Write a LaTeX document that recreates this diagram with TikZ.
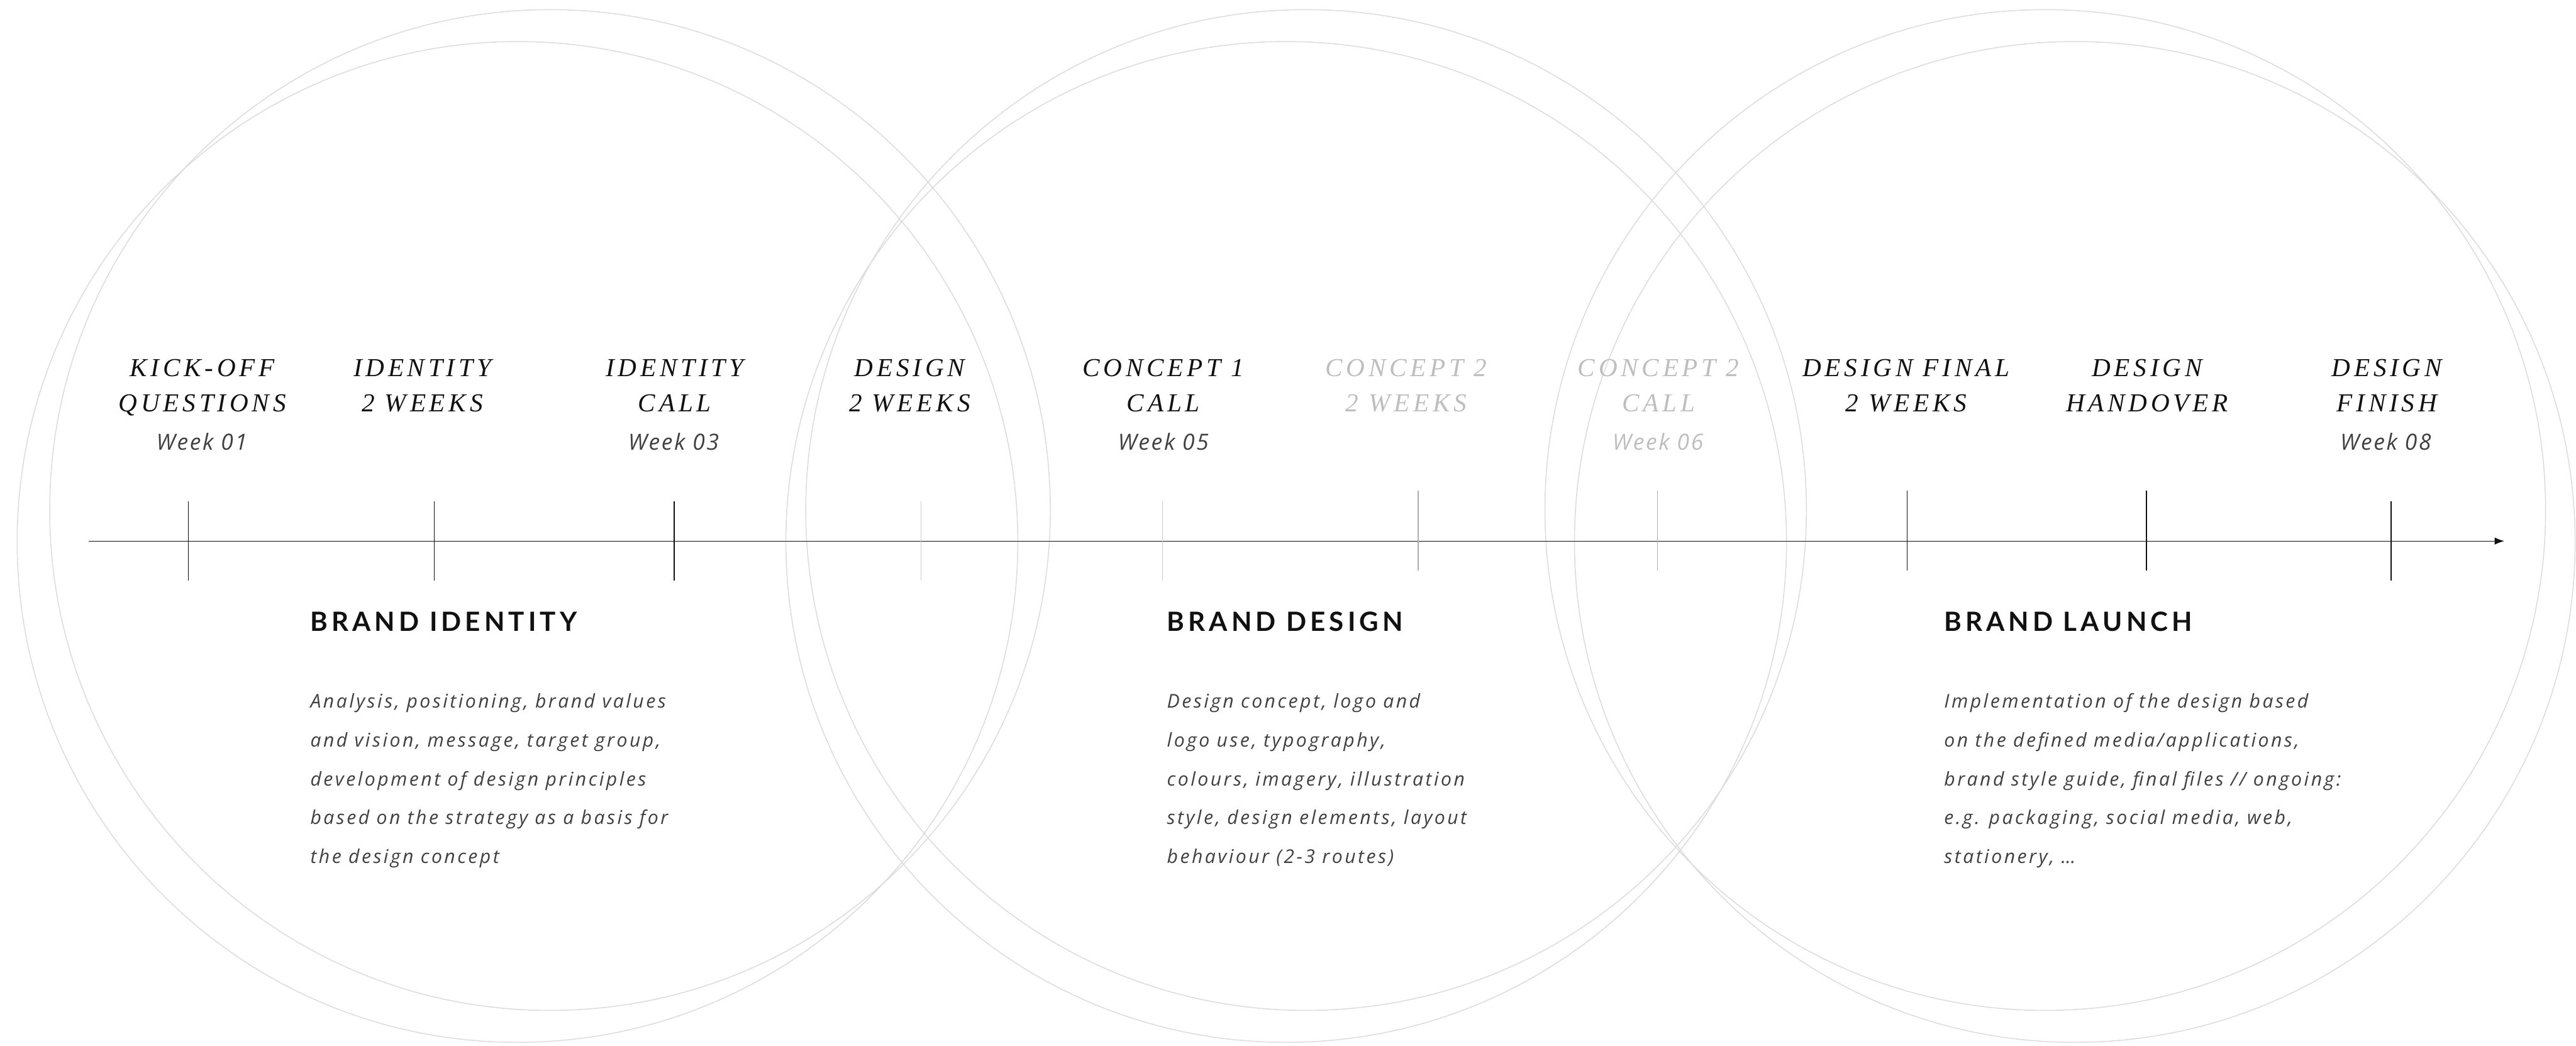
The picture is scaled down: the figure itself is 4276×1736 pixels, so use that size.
\documentclass[tikz,border=0pt]{standalone}
\usepackage{fontspec}
\setmainfont{Open Sans}
\newfontfamily\titlefont[LetterSpace=14]{Liberation Serif}
\newfontfamily\headfont[LetterSpace=14.5]{Lato}
\newfontfamily\bodyfont[LetterSpace=11.5]{Open Sans}
\newfontfamily\weekfont[LetterSpace=7.5]{Open Sans}
\usetikzlibrary{arrows.meta}

\definecolor{ring}{HTML}{DCDCDC}
\definecolor{ink}{HTML}{111111}
\definecolor{bodygray}{HTML}{404040}
\definecolor{fadetext}{HTML}{BEBEBE}
\definecolor{ticklight}{HTML}{CDCDCD}
\definecolor{tickmid}{HTML}{ADADAD}

% two stacked title lines, aligned on the first baseline
\newcommand\twolines[2]{\begin{tabular}[t]{@{}c@{}}#1\\#2\end{tabular}}
% left aligned paragraph lines, aligned on the first baseline
\newcommand\paralines[1]{\begin{tabular}[t]{@{}l@{}}#1\end{tabular}}

\begin{document}
\begin{tikzpicture}[x=1pt,y=-1pt,
  ringline/.style={draw=ring,line width=1.6pt},
  axis/.style={draw=ink,line width=1.3pt,-{Latex[length=16pt,width=12pt]}},
  tickmark/.style={draw=ink,line width=1.4pt},
  ttl/.style={inner sep=0pt,anchor=base,text=ink,
    font=\titlefont\itshape\fontsize{43}{58}\selectfont},
  wk/.style={inner sep=0pt,anchor=base,text=bodygray,
    font=\weekfont\itshape\fontsize{37}{44}\selectfont},
  hd/.style={inner sep=0pt,anchor=base west,text=ink,
    font=\headfont\bfseries\fontsize{44}{52}\selectfont},
  para/.style={inner sep=0pt,anchor=base west,text=bodygray,
    font=\bodyfont\itshape\fontsize{31.5}{64.5}\selectfont},
]
\useasboundingbox (0,0) rectangle (4276,1736);

% overlapping rings, two per phase
\draw[ringline] (913,846.5)  circle[radius=830.5pt];
\draw[ringline] (859,899.5)  circle[radius=830.5pt];
\draw[ringline] (2168,846.5) circle[radius=830.5pt];
\draw[ringline] (2135,899.5) circle[radius=830.5pt];
\draw[ringline] (3395,846.5) circle[radius=830.5pt];
\draw[ringline] (3444,899.5) circle[radius=830.5pt];

% time axis
\coordinate (axisstart) at (147,898);
\coordinate (axisend) at (4157,898);
\draw[axis] (axisstart) -- (axisend);

% milestone ticks
\foreach \n/\x/\ya/\yb/\c in {1/313/832/964/ink, 2/721/832/964/ink, 3/1119/832/964/ink,
    4/1529/832/964/ticklight, 5/1930/832/964/ticklight,
    6/2354/814/947/tickmid, 7/2751/814/947/tickmid,
    8/3166/814/947/ink, 9/3563/814/947/ink, 10/3969/832/964/ink}{
  \coordinate (tk\n top) at (\x,\ya);
  \coordinate (tk\n bot) at (\x,\yb);
  \draw[tickmark,draw=\c] (tk\n top) -- (tk\n bot);
}

% milestone titles
\node[ttl] (m1) at (336,625)  {\twolines{KICK-OFF}{QUESTIONS}};
\node[ttl] (m2) at (701,625)  {\twolines{IDENTITY}{2 WEEKS}};
\node[ttl] (m3) at (1120,625) {\twolines{IDENTITY}{CALL}};
\node[ttl] (m4) at (1510,625) {\twolines{DESIGN}{2 WEEKS}};
\node[ttl] (m5) at (1931,625) {\twolines{CONCEPT 1}{CALL}};
\node[ttl,text=fadetext] (m6) at (2334,625) {\twolines{CONCEPT 2}{2 WEEKS}};
\node[ttl,text=fadetext] (m7) at (2753,625) {\twolines{CONCEPT 2}{CALL}};
\node[ttl] (m8) at (3164,625) {\twolines{DESIGN FINAL}{2 WEEKS}};
\node[ttl] (m9) at (3564,625) {\twolines{DESIGN}{HANDOVER}};
\node[ttl] (m10) at (3962,625) {\twolines{DESIGN}{FINISH}};

% week labels
\node[wk] (w1) at (335,747)  {Week 01};
\node[wk] (w3) at (1118,747) {Week 03};
\node[wk] (w5) at (1931,747) {Week 05};
\node[wk,text=fadetext] (w6) at (2752,747) {Week 06};
\node[wk] (w8) at (3960,747) {Week 08};

% phase headings
\node[hd] (p1) at (515,1048)  {BRAND IDENTITY};
\node[hd] (p2) at (1937,1048) {BRAND DESIGN};
\node[hd] (p3) at (3227,1048) {BRAND LAUNCH};

% phase descriptions
\node[para] (d1) at (515,1175) {\paralines{Analysis, positioning, brand values\\
  and vision, message, target group,\\ development of design principles\\
  based on the strategy as a basis for\\ the design concept}};
\node[para] (d2) at (1937,1175) {\paralines{Design concept, logo and\\
  logo use, typography,\\ colours, imagery, illustration\\
  style, design elements, layout\\ behaviour (2-3 routes)}};
\node[para] (d3) at (3227,1175) {\paralines{Implementation of the design based\\
  on the defined media/applications,\\ brand style guide, final files // ongoing:\\
  e.g. packaging, social media, web,\\ stationery, \dots}};
\end{tikzpicture}
\end{document}
